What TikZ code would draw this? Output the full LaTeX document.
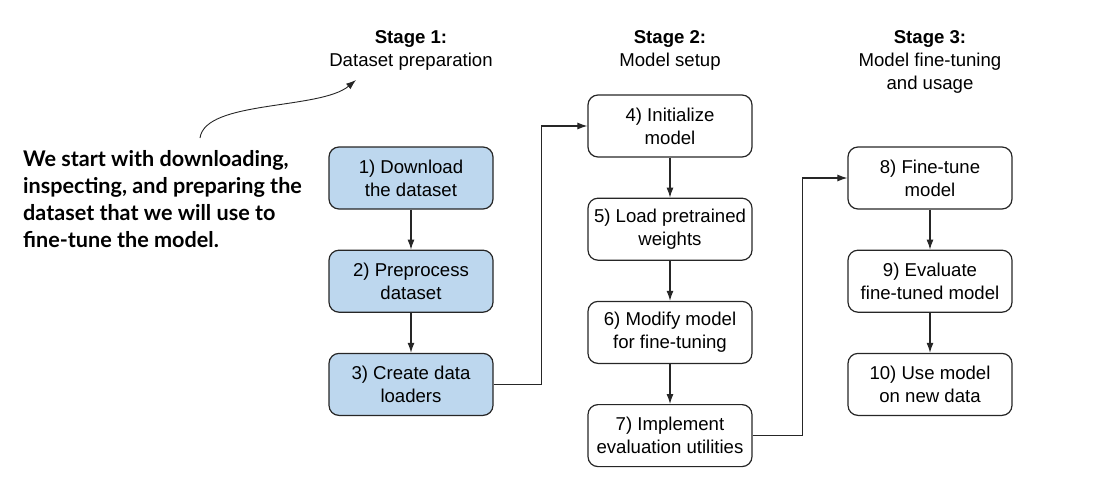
\documentclass[tikz,border=0pt]{standalone}
\usepackage{fontspec}
\setmainfont{Liberation Sans}
\newfontfamily\notefont{Lato}
\usetikzlibrary{arrows.meta,positioning}
\definecolor{prepblue}{RGB}{189,215,238}

\begin{document}
\begin{tikzpicture}[x=1pt,y=-1pt,
  stepbox/.style={draw=black!85,line width=1.2pt,rounded corners=10pt,
    minimum width=164pt,minimum height=62pt,align=center,
    font=\fontsize{18.6}{23}\selectfont},
  prepbox/.style={stepbox,fill=prepblue},
  flow/.style={-{Latex[length=10pt,width=7pt]},line width=1.1pt,draw=black!85},
  stagelabel/.style={anchor=north,inner sep=0pt,align=center,
    font=\fontsize{18.6}{23}\selectfont},
  node distance=40pt]
  \useasboundingbox (0,0) rectangle (1104,490);

  % Stage titles
  \node[stagelabel] (stageone)   at (411,30) {\textbf{Stage 1:}\\Dataset preparation};
  \node[stagelabel] (stagetwo)   at (670,30) {\textbf{Stage 2:}\\Model setup};
  \node[stagelabel] (stagethree) at (930,30) {\textbf{Stage 3:}\\Model fine-tuning\\and usage};

  % Stage 1
  \node[prepbox] (download) at (411,178) {1) Download\\the dataset};
  \node[prepbox,below=of download] (preprocess) {2) Preprocess\\dataset};
  \node[prepbox,below=of preprocess] (loaders) {3) Create data\\loaders};

  % Stage 2
  \node[stepbox] (init) at (670,126) {4) Initialize\\model};
  \node[stepbox,below=of init] (weights) {5) Load pretrained\\weights};
  \node[stepbox,below=of weights] (modify) {6) Modify model\\for fine-tuning};
  \node[stepbox,below=of modify] (evalutils) {7) Implement\\evaluation utilities};

  % Stage 3
  \node[stepbox] (finetune) at (930,178) {8) Fine-tune\\model};
  \node[stepbox,below=of finetune] (evaluate) {9) Evaluate\\fine-tuned model};
  \node[stepbox,below=of evaluate] (usemodel) {10) Use model\\on new data};

  % Note on the left
  \node[anchor=west,align=left,inner sep=0pt,
    font=\notefont\bfseries\fontsize{21.6}{27}\selectfont] (note) at (23,199)
    {We start with downloading,\\inspecting, and preparing the\\dataset that we will use to\\fine-tune the model.};
  \coordinate (notetail) at (200,138);
  \coordinate (notetip) at (356,80);
  \draw[flow,line width=0.9pt] (notetail) .. controls (205,100) and (320,110) .. (notetip);

  \draw[flow] (download) -- (preprocess);
  \draw[flow] (preprocess) -- (loaders);
  \draw[flow] (loaders.east) -- ++(48pt,0) |- (init.west);
  \draw[flow] (init) -- (weights);
  \draw[flow] (weights) -- (modify);
  \draw[flow] (modify) -- (evalutils);
  \draw[flow] (evalutils.east) -- ++(50pt,0) |- (finetune.west);
  \draw[flow] (finetune) -- (evaluate);
  \draw[flow] (evaluate) -- (usemodel);
\end{tikzpicture}
\end{document}
